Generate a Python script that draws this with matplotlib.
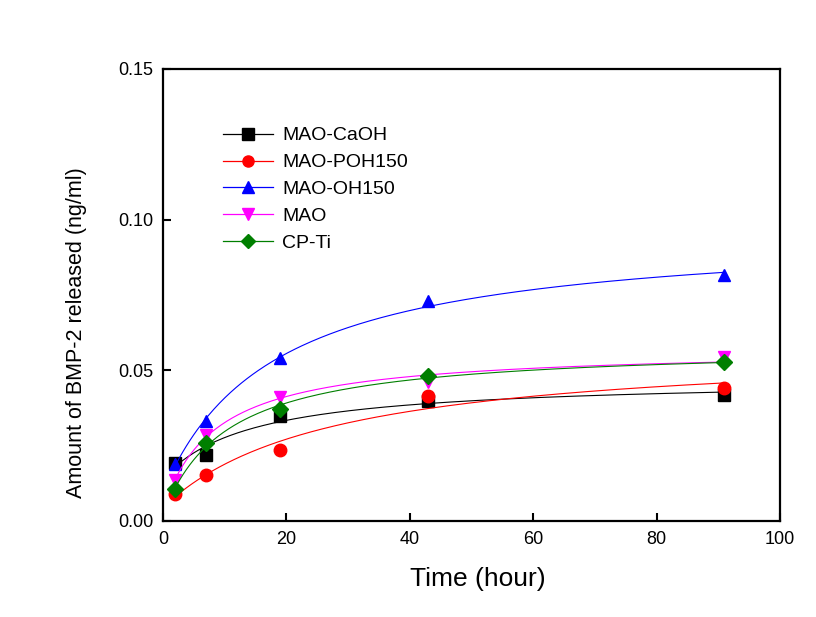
import numpy as np
import matplotlib
matplotlib.use('Agg')
import matplotlib.pyplot as plt

plt.rcParams['font.family'] = ['Liberation Sans', 'DejaVu Sans']

# time points (hour)
hours = [2, 7, 19, 43, 91]

# BMP-2 released (ng/ml)
mao_caoh = [0.0193, 0.0220, 0.0350, 0.0398, 0.0417]
mao_poh150 = [0.0088, 0.0152, 0.0237, 0.0415, 0.0440]
mao_oh150 = [0.0190, 0.0333, 0.0540, 0.0730, 0.0815]
mao = [0.0137, 0.0287, 0.0410, 0.0460, 0.0545]
cp_ti = [0.0107, 0.0260, 0.0370, 0.0480, 0.0527]

labels = ['MAO-CaOH', 'MAO-POH150', 'MAO-OH150', 'MAO', 'CP-Ti']
colors = ['black', '#ff0000', '#0000ff', '#ff00ff', '#007f00']
markers = ['s', 'o', '^', 'v', 'D']
series = [mao_caoh, mao_poh150, mao_oh150, mao, cp_ti]


def fit_curve(x, y, xs):
    # hyperbolic fit y = c + A*x/(t+x): grid search on t, least squares for c, A
    x = np.asarray(x, float)
    y = np.asarray(y, float)
    best = None
    for t in np.linspace(0.5, 300, 3000):
        M = np.column_stack([np.ones_like(x), x / (t + x)])
        coef, *_ = np.linalg.lstsq(M, y, rcond=None)
        err = np.sum((M @ coef - y) ** 2)
        if best is None or err < best[0]:
            best = (err, t, coef)
    _, t, coef = best
    return coef[0] + coef[1] * xs / (t + xs)


fig = plt.figure(figsize=(8.16, 6.17), dpi=100)
ax = fig.add_axes([0.1998, 0.1556, 0.7561, 0.7326])

xs = np.linspace(min(hours), max(hours), 300)
handles = []
for ys, lab, c, m in zip(series, labels, colors, markers):
    ms = 9 if m != 'D' else 8
    ax.plot(xs, fit_curve(hours, ys, xs), color=c, lw=0.8)
    ax.plot(hours, ys, linestyle='none', marker=m, color=c,
            markersize=ms, markeredgecolor=c)
    h, = ax.plot([], [], color=c, lw=0.9, marker=m, markersize=ms - 1)
    handles.append(h)

ax.set_xlim(0, 100)
ax.set_ylim(0, 0.15)
ax.set_xticks([0, 20, 40, 60, 80, 100])
ax.set_yticks([0.0, 0.05, 0.10, 0.15])
ax.set_yticklabels(['0.00', '0.05', '0.10', '0.15'])
ax.tick_params(direction='in', length=6, width=1.5, labelsize=13,
               top=False, right=False, pad=7)
for s in ax.spines.values():
    s.set_linewidth(1.6)

ax.set_xlabel('Time (hour)', fontsize=19)
ax.xaxis.set_label_coords(0.511, -0.102)
ax.set_ylabel('Amount of BMP-2 released (ng/ml)', fontsize=15.5)
ax.yaxis.set_label_coords(-0.123, 0.416)

ax.legend(handles, labels, loc='upper left', bbox_to_anchor=(0.2733, 0.7945),
          bbox_transform=fig.transFigure, frameon=False, fontsize=14,
          handlelength=2.58, handletextpad=0.46, labelspacing=0.48,
          borderpad=0, borderaxespad=0)

fig.savefig('out.png', dpi=100)
